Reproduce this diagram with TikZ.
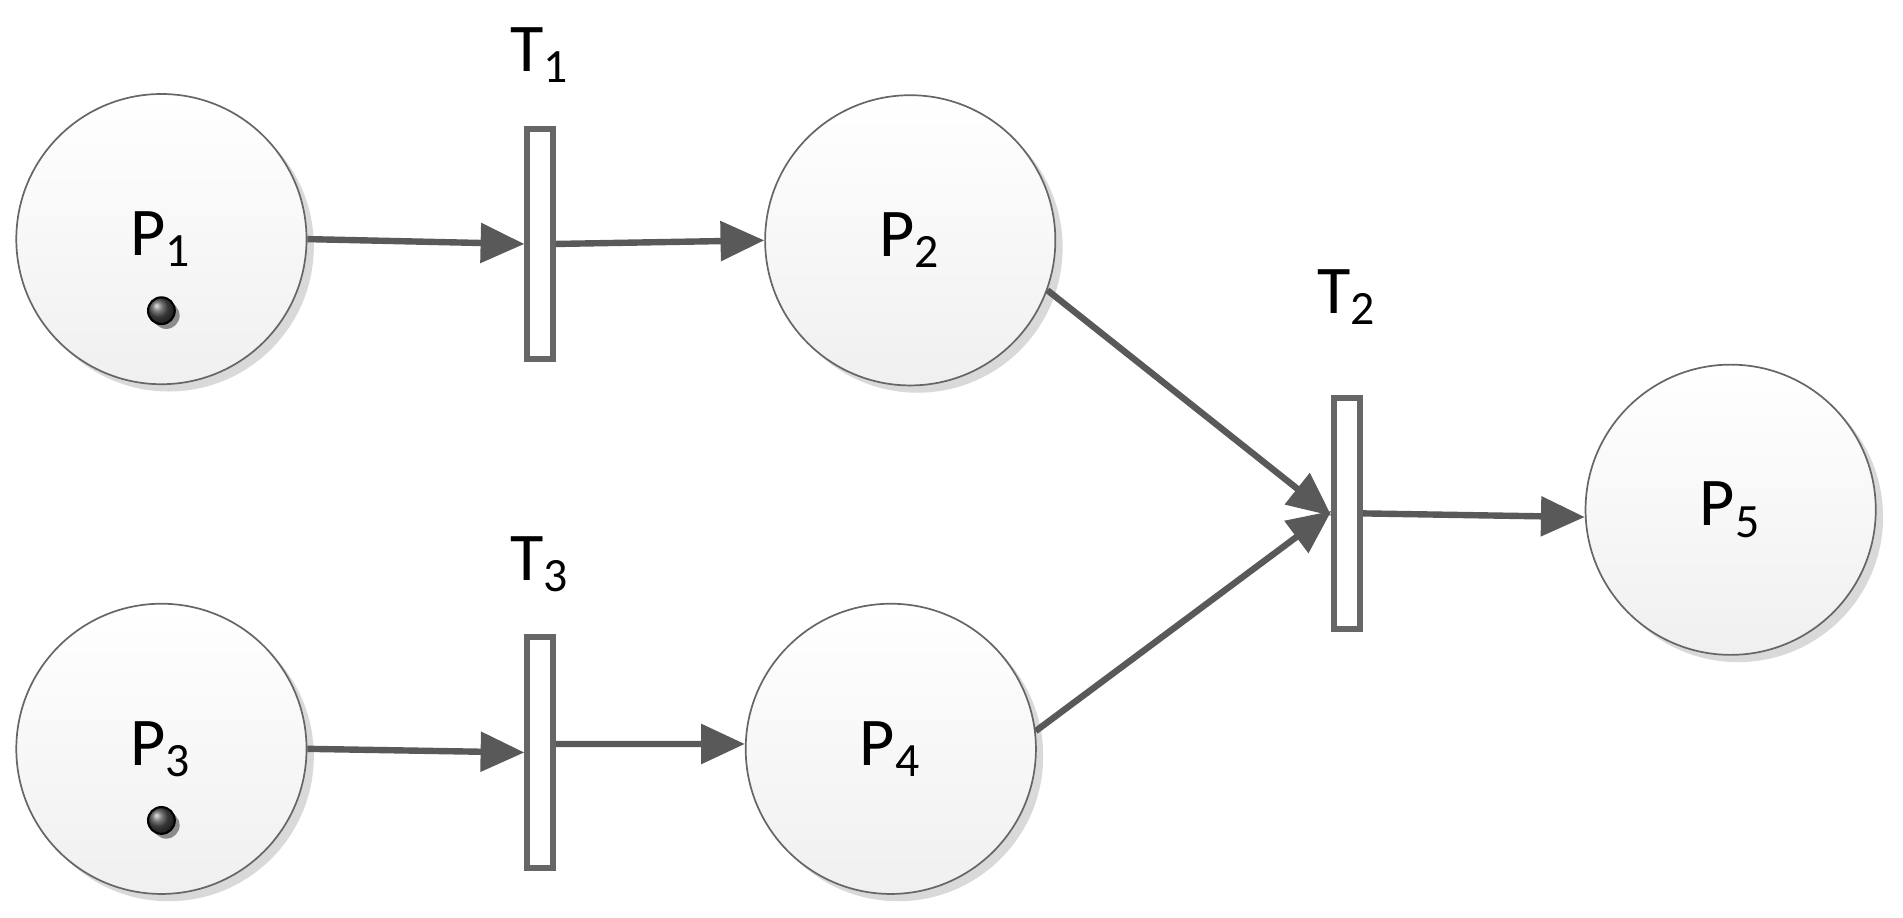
\documentclass[tikz,border=0pt]{standalone}
\usepackage{fontspec}
\setmainfont{Carlito}
\usetikzlibrary{arrows.meta,shadows}
\begin{document}
\begin{tikzpicture}[x=0.01cm,y=-0.01cm,
 place/.style={circle,draw=black!60,line width=0.4pt,minimum size=2.39cm,inner sep=0pt,
   top color=white,bottom color=black!6,font=\fontsize{16}{18}\selectfont,
   drop shadow={shadow xshift=0.06cm,shadow yshift=-0.06cm,fill=black!15,opacity=1}},
 trans/.style={rectangle,draw=black!60,line width=1.4pt,fill=white,minimum width=0.21cm,minimum height=1.9cm,inner sep=0pt},
 lbl/.style={font=\fontsize{16}{18}\selectfont},
 tok/.style={circle,draw=black,line width=0.5pt,inner sep=0pt,minimum size=0.22cm,ball color=black!70,
   drop shadow={shadow xshift=0.04cm,shadow yshift=-0.04cm,fill=black!45,opacity=1}},
 arc/.style={draw=black!65,line width=1.5pt,-{Triangle[length=0.36cm,width=0.32cm]}}]
\useasboundingbox (0,0) rectangle (1568,756);
\node[place] (P1) at (133,197) {P\textsubscript{1}};
\node[place] (P2) at (750,198) {P\textsubscript{2}};
\node[place] (P3) at (133,617) {P\textsubscript{3}};
\node[place] (P4) at (734,617) {P\textsubscript{4}};
\node[place] (P5) at (1426,420) {P\textsubscript{5}};
\node[tok] (k1) at (133,256) {};
\node[tok] (k3) at (133,676) {};
\node[trans] (T1) at (445,201) {};
\node[trans] (T3) at (445,620) {};
\node[trans] (T2) at (1110,423) {};
\node[lbl] (L1) at (445,45) {T\textsubscript{1}};
\node[lbl] (L3) at (445,465) {T\textsubscript{3}};
\node[lbl] (L2) at (1110,245) {T\textsubscript{2}};
\draw[arc] (P1.east) -- (T1.west);
\draw[arc] (T1.east) -- (P2.west);
\draw[arc] (P2.-20) -- ([yshift=-0.02cm]T2.west);
\draw[arc] (P4.7) -- ([yshift=0.02cm]T2.west);
\draw[arc] (T2.east) -- ([yshift=-0.06cm]P5.west);
\draw[arc] (P3.east) -- (T3.west);
\draw[arc] ([yshift=0.07cm]T3.east) -- ([yshift=0.04cm]P4.west);
\end{tikzpicture}
\end{document}
